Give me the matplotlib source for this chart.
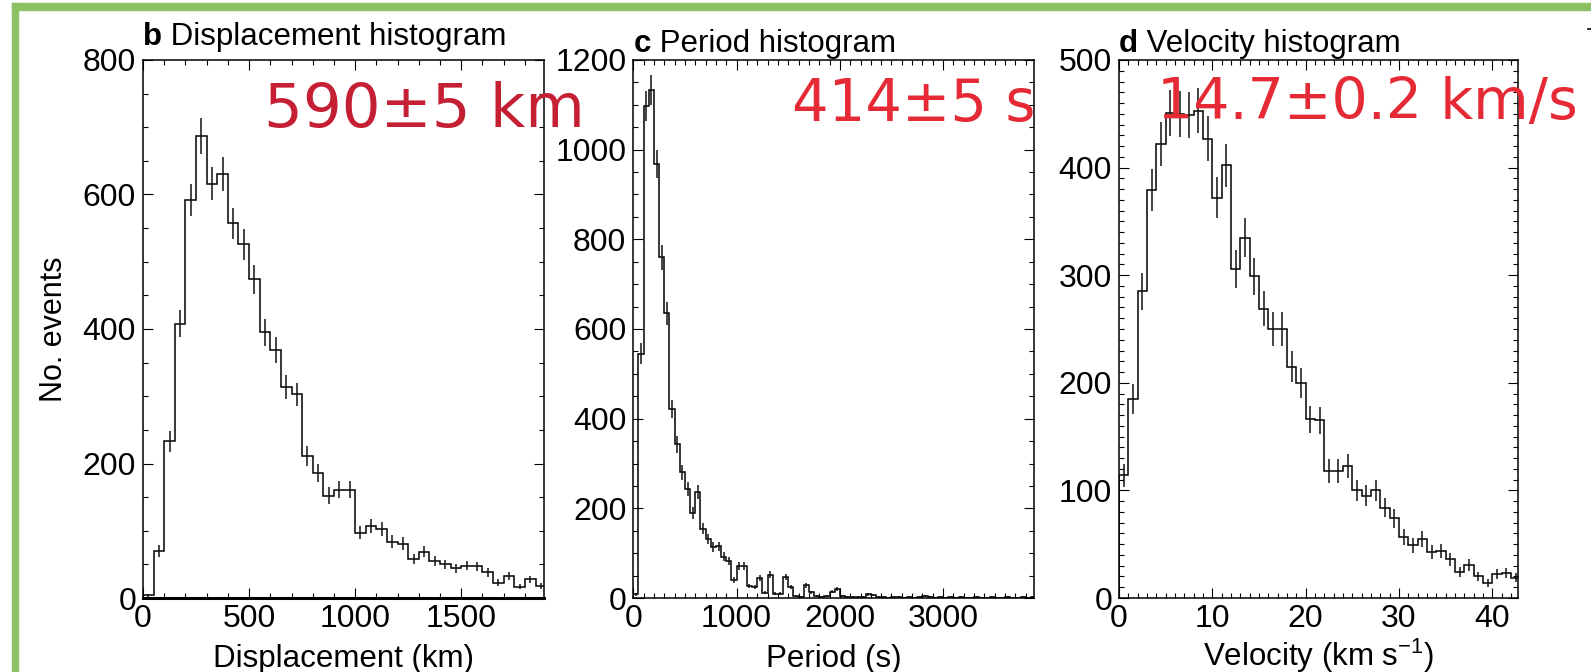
import numpy as np
import matplotlib
matplotlib.use("Agg")
import matplotlib.pyplot as plt
from matplotlib.patches import Rectangle
from matplotlib.lines import Line2D
from matplotlib.ticker import MultipleLocator

plt.rcParams['font.family'] = ['Liberation Sans', 'DejaVu Sans']
plt.rcParams['mathtext.fontset'] = 'custom'
plt.rcParams['mathtext.rm'] = 'Liberation Sans'
plt.rcParams['mathtext.it'] = 'Liberation Sans:italic'
plt.rcParams['mathtext.bf'] = 'Liberation Sans:bold'

# ---------------- data ----------------
# b: displacement histogram, 50 km bins starting at 0
disp_bin_width = 50
disp_counts = [4, 70, 233, 408, 592, 687, 616, 631, 557, 526, 474, 395, 369, 314,
               303, 211, 186, 152, 161, 161, 97, 107, 103, 84, 81, 58, 69, 55, 50,
               44, 48, 47, 38, 23, 33, 17, 28, 18]

# c: period histogram, 50 s bins starting at 0
period_bin_width = 50
period_counts = [8, 545, 1097, 1133, 969, 760, 635, 421, 343, 280, 243, 189, 236, 155,
                 132, 114, 115, 92,
                 82, 40, 71, 72, 27, 25, 44, 12, 52, 10, 10, 47, 24, 4, 3, 28, 13, 4,
                 3, 5, 14, 20, 5, 3, 2, 2, 3, 8, 6, 3,
                 2, 1, 3, 2, 1, 2, 1, 3, 4, 2, 1, 2, 1, 3, 1, 2, 1, 1, 2, 1, 1, 2, 1,
                 1, 2, 1, 1, 3, 1, 2]

# d: velocity histogram, 1 km/s bins starting at 0
vel_bin_width = 1
vel_counts = [114, 185, 285, 379, 422, 451, 450, 449, 453, 427, 372, 402, 306, 335,
              299, 269, 250, 250, 215, 200, 166, 165, 118, 118, 123, 100, 95, 100,
              84, 74, 57, 49, 55, 43, 44, 36, 24, 31, 20, 14, 22, 23, 19]

titles_letter = ['b', 'c', 'd']
titles_text = [' Displacement histogram', ' Period histogram', ' Velocity histogram']
xlabels = ['Displacement (km)', 'Period (s)', r'Velocity (km s$^{\mathregular{-1}}$)']
xlims = [1890, 3880, 42.8]
ylims = [800, 1200, 500]
x_major = [500, 1000, 10]
x_minor = [100, 100, 1]
y_major = [200, 200, 100]
y_minor = [50, 50, 10]
results = ['590±5 km', '414±5 s', '14.7±0.2 km/s']
result_colors = ['#C51F33', '#E62A35', '#E62A35']

# ---------------- layout ----------------
W, H = 1591, 672
fig = plt.figure(figsize=(W / 100, H / 100), dpi=100)

def px_axes(x0, x1, y0, y1):
    return fig.add_axes([x0 / W, 1 - y1 / H, (x1 - x0) / W, (y1 - y0) / H])

axes = [px_axes(143, 544, 60, 598),
        px_axes(633.3, 1034, 60, 598),
        px_axes(1119, 1518.3, 60, 598)]

datasets = [(disp_counts, disp_bin_width),
            (period_counts, period_bin_width),
            (vel_counts, vel_bin_width)]

title_y = [1 + 15 / 538, 1 + 8.3 / 538, 1 + 8.3 / 538]
label_pads = [7.5, 7.5, 2]

for i, ax in enumerate(axes):
    counts, bw = datasets[i]
    counts = np.asarray(counts, dtype=float)
    edges = np.arange(len(counts) + 1) * bw
    centers = edges[:-1] + bw / 2
    ax.stairs(counts, edges, color='black', lw=1.1, baseline=0)
    ax.errorbar(centers, counts, yerr=np.sqrt(counts), fmt='none',
                ecolor='#111111', elinewidth=1.1, capsize=0)
    ax.set_xlim(0, xlims[i])
    ax.set_ylim(0, ylims[i])
    ax.xaxis.set_major_locator(MultipleLocator(x_major[i]))
    ax.xaxis.set_minor_locator(MultipleLocator(x_minor[i]))
    ax.yaxis.set_major_locator(MultipleLocator(y_major[i]))
    ax.yaxis.set_minor_locator(MultipleLocator(y_minor[i]))
    ax.tick_params(which='both', direction='in', top=True, right=True,
                   labelsize=23, width=0.8, color='black')
    ax.tick_params(axis='x', which='both', pad=4)
    ax.tick_params(axis='y', which='both', pad=5)
    ax.tick_params(which='major', length=7)
    ax.tick_params(which='minor', length=3.5)
    for s in ax.spines.values():
        s.set_linewidth(1.1)
    ax.set_xlabel(xlabels[i], fontsize=22.5, labelpad=label_pads[i])
    t1 = ax.text(0, title_y[i], titles_letter[i], transform=ax.transAxes,
                 fontsize=22.5, fontweight='bold', ha='left', va='baseline')
    ax.annotate(titles_text[i], xy=(1, 0), xycoords=t1, fontsize=22.5,
                ha='left', va='bottom')

axes[0].spines['bottom'].set_linewidth(2.2)
axes[0].set_ylabel('No. events', fontsize=22, labelpad=10)

# red result texts (overlay, may extend outside axes)
result_pos = [(264, 127, 44), (792, 121, 41.5), (1157, 119, 41)]
for (x, y, fs), txt, col in zip(result_pos, results, result_colors):
    fig.text(x / W, 1 - y / H, txt, fontsize=fs, color=col,
             family='DejaVu Sans', ha='left', va='baseline')

# green frame
green = '#8CC063'
fig.patches.append(Rectangle((12 / W, 1 - 10 / H), (W - 12) / W, 7 / H,
                             transform=fig.transFigure, color=green, zorder=0))
fig.patches.append(Rectangle((12 / W, 0), 6 / W, 1 - 3 / H,
                             transform=fig.transFigure, color=green, zorder=0))
# small cropped mark at the top-right corner
fig.lines.append(Line2D([1587.5 / W, 1591 / W], [1 - 28.5 / H, 1 - 28.5 / H],
                        transform=fig.transFigure, color='black', lw=1.2))

fig.savefig('out.png', dpi=100)
